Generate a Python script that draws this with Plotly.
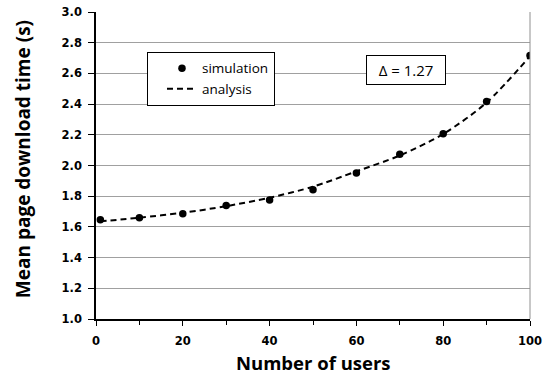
import plotly.graph_objects as go

# Number of users on the x axis
users_sim = [1, 10, 20, 30, 40, 50, 60, 70, 80, 90, 100]
# Simulated mean page download time (s)
sim_time = [1.647, 1.660, 1.685, 1.740, 1.775, 1.842, 1.951, 2.073, 2.207, 2.417, 2.716]

# Analytical model curve
users_ana = [1, 10, 20, 30, 40, 50, 60, 70, 80, 90, 100]
ana_time = [1.636, 1.660, 1.692, 1.735, 1.790, 1.862, 1.962, 2.065, 2.205, 2.410, 2.712]

x_tick_vals = [0, 20, 40, 60, 80, 100]
y_tick_vals = [1.0, 1.2, 1.4, 1.6, 1.8, 2.0, 2.2, 2.4, 2.6, 2.8, 3.0]

tick_font = dict(family="DejaVu Sans", size=11.5, color="black", weight="bold")
x_title_font = dict(family="Open Sans", size=18.5, color="black", weight="bold")
y_title_font = dict(family="Open Sans", size=19, color="black", weight="bold")

fig = go.Figure()

fig.add_trace(go.Scatter(
    x=users_sim, y=sim_time, mode="markers", name="simulation",
    marker=dict(color="black", size=7.5, symbol="circle"),
))
fig.add_trace(go.Scatter(
    x=users_ana, y=ana_time, mode="lines", name="analysis",
    line=dict(color="black", width=2, dash="6px,4px", shape="spline", smoothing=0.8),
))

fig.update_layout(
    width=551, height=376,
    margin=dict(l=96, r=21, t=12, b=57),
    paper_bgcolor="white", plot_bgcolor="white",
    showlegend=True,
    legend=dict(
        x=0.1175, y=0.87, xanchor="left", yanchor="top",
        bordercolor="black", borderwidth=1, bgcolor="white",
        font=dict(family="Open Sans", size=13.5, color="black"),
        tracegroupgap=0, itemwidth=30, indentation=14,
    ),
    annotations=[
        dict(
            x=0.714, y=0.811, xref="paper", yref="paper",
            xanchor="center", yanchor="middle",
            text="\u0394 = 1.27", showarrow=False,
            font=dict(family="Open Sans", size=15, color="black"),
            width=70, height=20,
            bordercolor="black", borderwidth=1, borderpad=4, bgcolor="white",
        ),
        # axis titles
        dict(
            x=0.5, y=-0.143, xref="paper", yref="paper",
            xanchor="center", yanchor="middle",
            text="Number of users", showarrow=False, font=x_title_font,
        ),
        dict(
            x=-0.168, y=0.521, xref="paper", yref="paper",
            xanchor="center", yanchor="middle", textangle=-90,
            text="Mean page download time (s)", showarrow=False, font=y_title_font,
        ),
    ],
    shapes=[dict(
        type="line", xref="paper", yref="paper", x0=1, x1=1, y0=0, y1=1,
        line=dict(color="#909090", width=1),
    )],
)

fig.update_xaxes(
    range=[0, 100], tickvals=x_tick_vals, ticks="outside", ticklen=5,
    tickcolor="black", showline=True, linecolor="black", linewidth=1.5,
    showgrid=False, zeroline=False, tickfont=tick_font, ticklabelstandoff=5,
    automargin=False,
    minor=dict(dtick=10, ticks="outside", ticklen=4, tickcolor="black", showgrid=False),
)
fig.update_yaxes(
    range=[1.0, 3.0], tickvals=y_tick_vals, tickformat=".1f",
    ticks="outside", ticklen=6, tickcolor="black",
    showline=True, linecolor="black", linewidth=1.5,
    showgrid=True, gridcolor="#a0a0a0", gridwidth=1, zeroline=False,
    tickfont=tick_font, ticklabelstandoff=4, automargin=False,
)

fig.write_html("out.html")
